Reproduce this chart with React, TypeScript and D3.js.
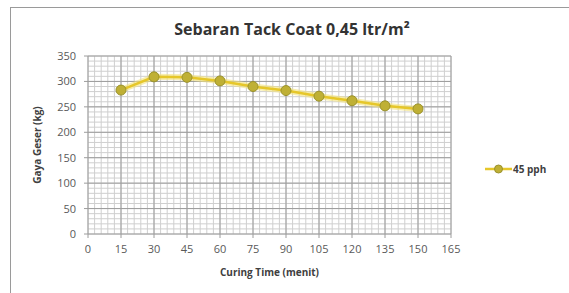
import React, { useEffect, useRef } from "react";
import * as d3 from "d3";

// Curing time (menit) and shear force (kg)
const curingTimes = [15, 30, 45, 60, 75, 90, 105, 120, 135, 150];
const gayaGeser = [283, 309, 308, 301, 290, 282, 271, 262, 252, 246];
const xTicks = [0, 15, 30, 45, 60, 75, 90, 105, 120, 135, 150, 165];
const yTicks = [0, 50, 100, 150, 200, 250, 300, 350];
const seriesName = "45 pph";

export default function App() {
  const ref = useRef<SVGSVGElement>(null);

  useEffect(() => {
    const svg = d3.select(ref.current);
    svg.selectAll("*").remove();

    const W = 569, H = 293;
    const left = 88, right = 451, top = 56, bottom = 234;
    const font = "'Open Sans', 'Liberation Sans', sans-serif";

    svg.append("rect").attr("width", W).attr("height", H).attr("fill", "#fff");
    // chart frame
    svg.append("rect")
      .attr("x", 10.5).attr("y", 7.5)
      .attr("width", W - 8).attr("height", H)
      .attr("fill", "none").attr("stroke", "#9a9a9a");

    const x = d3.scaleLinear().domain([0, 165]).range([left, right]);
    const y = d3.scaleLinear().domain([0, 350]).range([bottom, top]);

    const g = svg.append("g");

    // minor grid
    const minorX = d3.range(0, 165.01, 3);
    const minorY = d3.range(0, 350.01, 10);
    g.selectAll(".mx").data(minorX).join("line")
      .attr("x1", d => x(d)).attr("x2", d => x(d))
      .attr("y1", top).attr("y2", bottom)
      .attr("stroke", "#cfcfcf").attr("stroke-width", 1);
    g.selectAll(".my").data(minorY).join("line")
      .attr("x1", left).attr("x2", right)
      .attr("y1", d => y(d)).attr("y2", d => y(d))
      .attr("stroke", "#cfcfcf").attr("stroke-width", 1);

    // major grid
    g.selectAll(".Mx").data(xTicks).join("line")
      .attr("x1", d => x(d)).attr("x2", d => x(d))
      .attr("y1", top).attr("y2", bottom + 4)
      .attr("stroke", "#9c9c9c").attr("stroke-width", 1);
    g.selectAll(".My").data(yTicks).join("line")
      .attr("x1", left - 4).attr("x2", right)
      .attr("y1", d => y(d)).attr("y2", d => y(d))
      .attr("stroke", "#9c9c9c").attr("stroke-width", 1);

    // tick labels
    g.selectAll(".xl").data(xTicks).join("text")
      .attr("x", d => x(d)).attr("y", bottom + 19)
      .attr("text-anchor", "middle")
      .attr("font-family", font).attr("font-size", 11).attr("fill", "#595959")
      .text(d => d);
    g.selectAll(".yl").data(yTicks).join("text")
      .attr("x", left - 12).attr("y", d => y(d) + 4)
      .attr("text-anchor", "end")
      .attr("font-family", font).attr("font-size", 11).attr("fill", "#595959")
      .text(d => d);

    // title
    svg.append("text")
      .attr("x", 292).attr("y", 35)
      .attr("text-anchor", "middle")
      .attr("font-family", font).attr("font-size", 16).attr("font-weight", "bold")
      .attr("fill", "#333")
      .text("Sebaran Tack Coat 0,45 ltr/m²");

    // axis titles
    svg.append("text")
      .attr("x", (left + right) / 2).attr("y", 276)
      .attr("text-anchor", "middle")
      .attr("font-family", font).attr("font-size", 10).attr("font-weight", "bold")
      .attr("fill", "#404040")
      .text("Curing Time  (menit)");
    svg.append("text")
      .attr("transform", `translate(41,${(top + bottom) / 2}) rotate(-90)`)
      .attr("text-anchor", "middle")
      .attr("font-family", font).attr("font-size", 10).attr("font-weight", "bold")
      .attr("fill", "#404040")
      .text("Gaya Geser  (kg)");

    // series
    const pts = curingTimes.map((t, i) => [t, gayaGeser[i]] as [number, number]);
    const line = d3.line<[number, number]>().x(d => x(d[0])).y(d => y(d[1]));
    g.append("path").datum(pts).attr("d", line)
      .attr("fill", "none").attr("stroke", "#f3e27a").attr("stroke-width", 6).attr("opacity", 0.6);
    g.append("path").datum(pts).attr("d", line)
      .attr("fill", "none").attr("stroke", "#e6c72a").attr("stroke-width", 2.5);
    g.selectAll(".pt").data(pts).join("circle")
      .attr("cx", d => x(d[0])).attr("cy", d => y(d[1])).attr("r", 5)
      .attr("fill", "#bfb035").attr("stroke", "#9a922c").attr("stroke-width", 1);

    // legend
    const lx = 485, ly = 169;
    svg.append("line")
      .attr("x1", lx).attr("x2", lx + 27).attr("y1", ly).attr("y2", ly)
      .attr("stroke", "#e6c72a").attr("stroke-width", 2.5);
    svg.append("circle")
      .attr("cx", lx + 13.5).attr("cy", ly).attr("r", 4)
      .attr("fill", "#bfb035").attr("stroke", "#9a922c");
    svg.append("text")
      .attr("x", lx + 28).attr("y", ly + 3.5)
      .attr("font-family", font).attr("font-size", 10).attr("font-weight", "bold")
      .attr("fill", "#404040")
      .text(seriesName);
  }, []);

  return (
    <svg ref={ref} width={569} height={293}
      style={{ position: "absolute", left: 0, top: 0, display: "block" }} />
  );
}
